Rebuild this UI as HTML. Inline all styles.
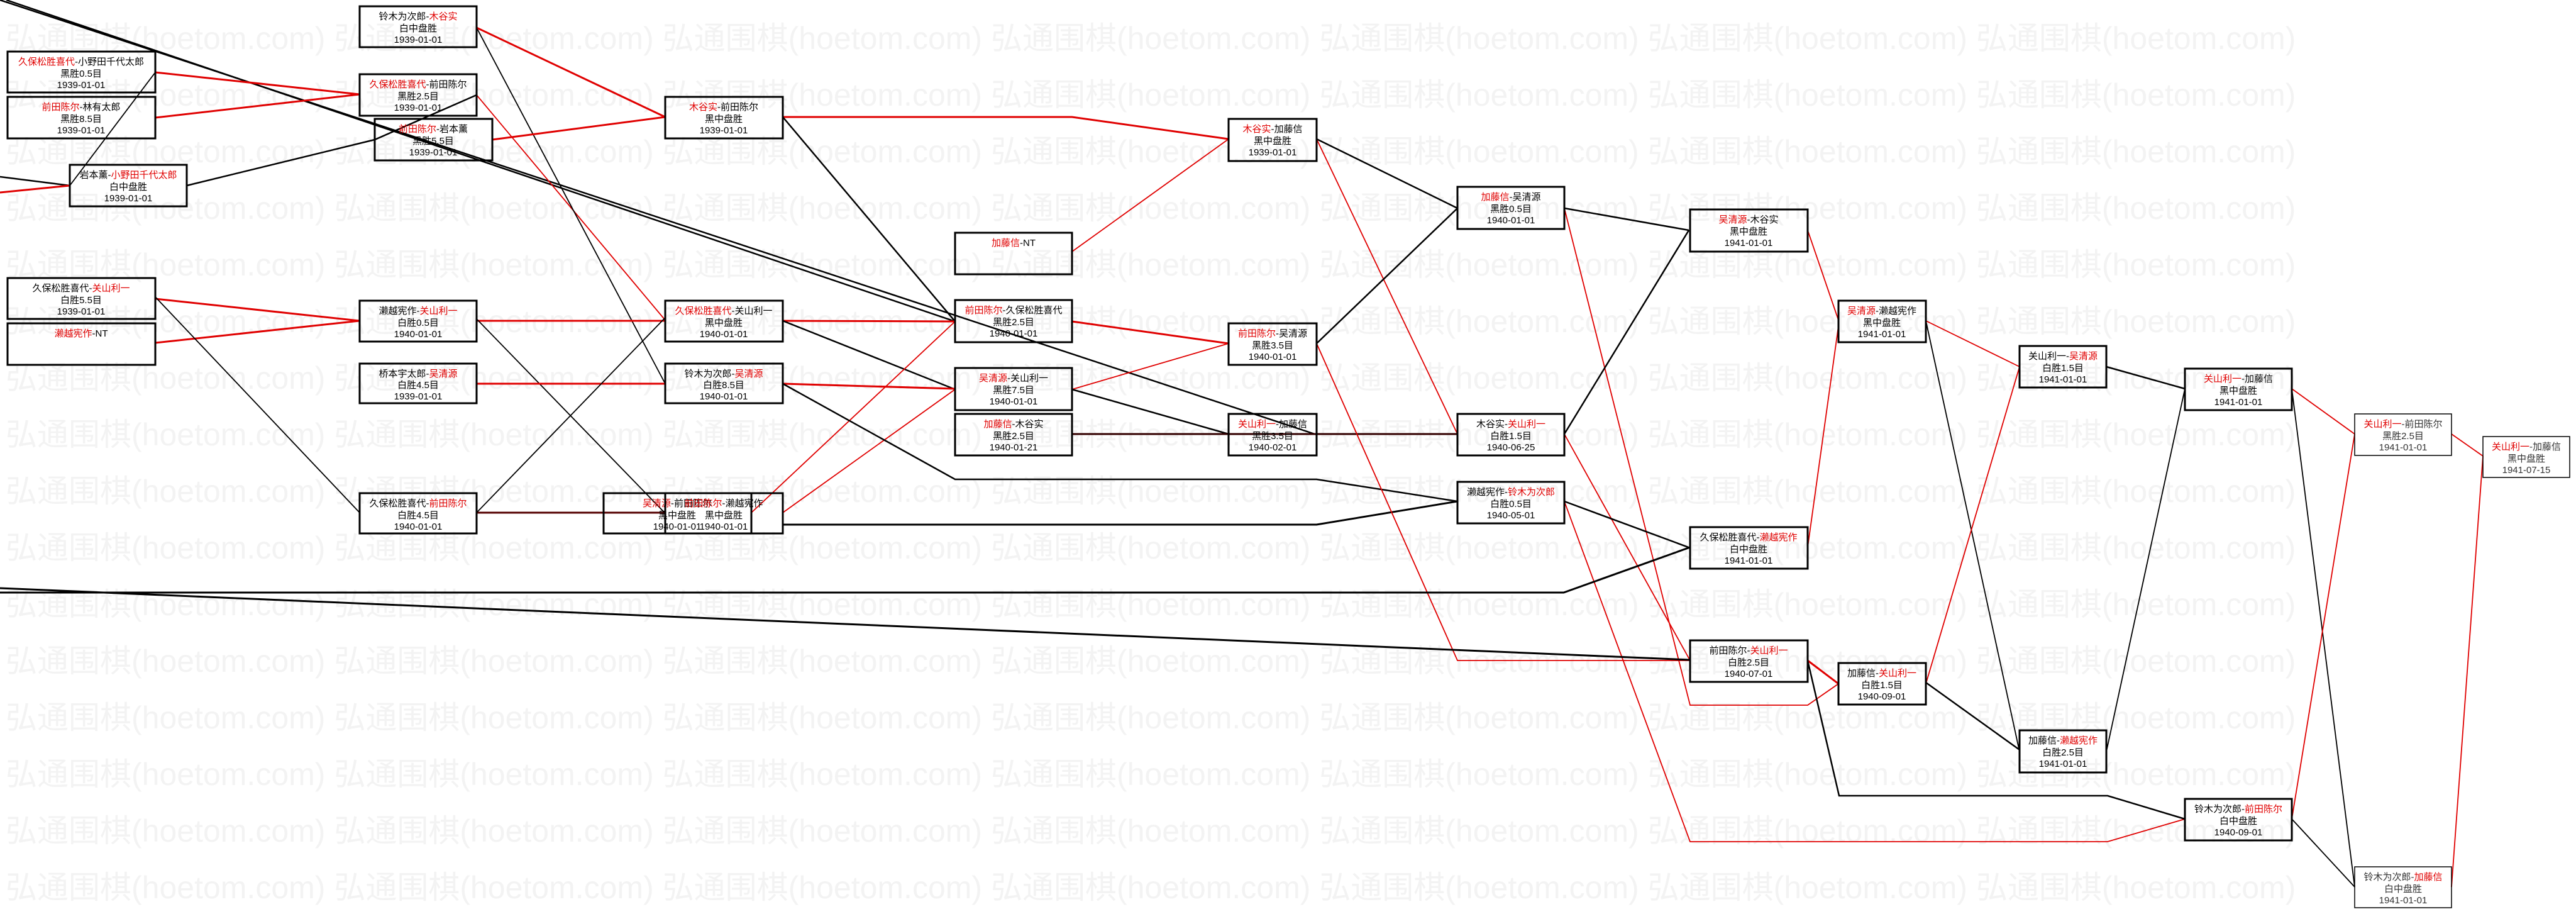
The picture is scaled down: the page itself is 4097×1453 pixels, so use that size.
<!DOCTYPE html>
<html><head><meta charset="utf-8"><style>
html,body{margin:0;padding:0;background:#fff;}
svg{display:block;}
.wm{font-family:"Liberation Sans","Noto Sans CJK SC",sans-serif;font-size:50px;fill:#f3f3f3;}
.t{font-family:"Liberation Sans","Noto Sans CJK SC",sans-serif;font-size:15px;fill:#000;text-anchor:middle;}
.r{fill:#e00000;}
.g{fill:#333;}
.b{fill:none;stroke:#000;stroke-width:3;}
.bt{fill:none;stroke:#000;stroke-width:1.5;}
.k{fill:none;stroke:#000;stroke-width:2.5;}
.kt{fill:none;stroke:#000;stroke-width:1.8;}
.e{fill:none;stroke:#e00000;stroke-width:3;}
.et{fill:none;stroke:#e00000;stroke-width:1.8;}
</style></head><body>
<svg width="4097" height="1453" viewBox="0 0 4097 1453" xmlns="http://www.w3.org/2000/svg">
<rect width="4097" height="1453" fill="#fff"/>
<g class="wm">
<text x="9" y="78">弘通围棋(hoetom.com) 弘通围棋(hoetom.com) 弘通围棋(hoetom.com) 弘通围棋(hoetom.com) 弘通围棋(hoetom.com) 弘通围棋(hoetom.com) 弘通围棋(hoetom.com)</text>
<text x="9" y="168">弘通围棋(hoetom.com) 弘通围棋(hoetom.com) 弘通围棋(hoetom.com) 弘通围棋(hoetom.com) 弘通围棋(hoetom.com) 弘通围棋(hoetom.com) 弘通围棋(hoetom.com)</text>
<text x="9" y="258">弘通围棋(hoetom.com) 弘通围棋(hoetom.com) 弘通围棋(hoetom.com) 弘通围棋(hoetom.com) 弘通围棋(hoetom.com) 弘通围棋(hoetom.com) 弘通围棋(hoetom.com)</text>
<text x="9" y="348">弘通围棋(hoetom.com) 弘通围棋(hoetom.com) 弘通围棋(hoetom.com) 弘通围棋(hoetom.com) 弘通围棋(hoetom.com) 弘通围棋(hoetom.com) 弘通围棋(hoetom.com)</text>
<text x="9" y="438">弘通围棋(hoetom.com) 弘通围棋(hoetom.com) 弘通围棋(hoetom.com) 弘通围棋(hoetom.com) 弘通围棋(hoetom.com) 弘通围棋(hoetom.com) 弘通围棋(hoetom.com)</text>
<text x="9" y="528">弘通围棋(hoetom.com) 弘通围棋(hoetom.com) 弘通围棋(hoetom.com) 弘通围棋(hoetom.com) 弘通围棋(hoetom.com) 弘通围棋(hoetom.com) 弘通围棋(hoetom.com)</text>
<text x="9" y="618">弘通围棋(hoetom.com) 弘通围棋(hoetom.com) 弘通围棋(hoetom.com) 弘通围棋(hoetom.com) 弘通围棋(hoetom.com) 弘通围棋(hoetom.com) 弘通围棋(hoetom.com)</text>
<text x="9" y="708">弘通围棋(hoetom.com) 弘通围棋(hoetom.com) 弘通围棋(hoetom.com) 弘通围棋(hoetom.com) 弘通围棋(hoetom.com) 弘通围棋(hoetom.com) 弘通围棋(hoetom.com)</text>
<text x="9" y="798">弘通围棋(hoetom.com) 弘通围棋(hoetom.com) 弘通围棋(hoetom.com) 弘通围棋(hoetom.com) 弘通围棋(hoetom.com) 弘通围棋(hoetom.com) 弘通围棋(hoetom.com)</text>
<text x="9" y="888">弘通围棋(hoetom.com) 弘通围棋(hoetom.com) 弘通围棋(hoetom.com) 弘通围棋(hoetom.com) 弘通围棋(hoetom.com) 弘通围棋(hoetom.com) 弘通围棋(hoetom.com)</text>
<text x="9" y="978">弘通围棋(hoetom.com) 弘通围棋(hoetom.com) 弘通围棋(hoetom.com) 弘通围棋(hoetom.com) 弘通围棋(hoetom.com) 弘通围棋(hoetom.com) 弘通围棋(hoetom.com)</text>
<text x="9" y="1068">弘通围棋(hoetom.com) 弘通围棋(hoetom.com) 弘通围棋(hoetom.com) 弘通围棋(hoetom.com) 弘通围棋(hoetom.com) 弘通围棋(hoetom.com) 弘通围棋(hoetom.com)</text>
<text x="9" y="1158">弘通围棋(hoetom.com) 弘通围棋(hoetom.com) 弘通围棋(hoetom.com) 弘通围棋(hoetom.com) 弘通围棋(hoetom.com) 弘通围棋(hoetom.com) 弘通围棋(hoetom.com)</text>
<text x="9" y="1248">弘通围棋(hoetom.com) 弘通围棋(hoetom.com) 弘通围棋(hoetom.com) 弘通围棋(hoetom.com) 弘通围棋(hoetom.com) 弘通围棋(hoetom.com) 弘通围棋(hoetom.com)</text>
<text x="9" y="1338">弘通围棋(hoetom.com) 弘通围棋(hoetom.com) 弘通围棋(hoetom.com) 弘通围棋(hoetom.com) 弘通围棋(hoetom.com) 弘通围棋(hoetom.com) 弘通围棋(hoetom.com)</text>
<text x="9" y="1428">弘通围棋(hoetom.com) 弘通围棋(hoetom.com) 弘通围棋(hoetom.com) 弘通围棋(hoetom.com) 弘通围棋(hoetom.com) 弘通围棋(hoetom.com) 弘通围棋(hoetom.com)</text>
</g>

<!-- connectors -->
<polyline class="k" points="0,0 2094,691"/>
<polyline class="k" points="10,0 1519,511"/>
<polyline class="k" points="0,281 111,295"/>
<polyline class="e" points="0,306 111,295"/>
<polyline class="e" points="247,115 572,150"/>
<polyline class="e" points="247,187 572,150"/>
<polyline class="kt" points="247,115 111,295"/>
<polyline class="k" points="297,295 596,222 758,151"/>
<polyline class="et" points="758,151 1058,509"/>
<polyline class="kt" points="758,44 1058,610"/>
<polyline class="e" points="758,44 1058,186"/>
<polyline class="e" points="783,222 1058,186"/>
<polyline class="e" points="1245,186 1705,186 1954,221"/>
<polyline class="k" points="1245,186 1519,511"/>
<polyline class="e" points="247,475 572,510"/>
<polyline class="e" points="247,545 572,510"/>
<polyline class="kt" points="247,472 572,815"/>
<polyline class="e" points="758,510 1058,510"/>
<polyline class="kt" points="758,507 1058,816"/>
<polyline class="e" points="1245,510 1519,511"/>
<polyline class="k" points="1245,510 1519,619"/>
<polyline class="e" points="758,610 1058,610"/>
<polyline class="kt" points="758,815 1058,505"/>
<polyline class="b" points="758,815 1058,815" style="stroke:#500"/>
<polyline class="b" points="1245,834 2094,834 2318,797"/>
<polyline class="et" points="1195,815 1519,511"/>
<polyline class="et" points="1245,815 1519,619"/>
<polyline class="e" points="1245,610 1519,618"/>
<polyline class="k" points="1245,610 1519,762 2094,762 2318,797"/>
<polyline class="et" points="1705,400 1954,221"/>
<polyline class="e" points="1705,511 1954,546"/>
<polyline class="et" points="1705,619 1954,546"/>
<polyline class="k" points="1705,619 1954,690"/>
<polyline class="b" points="1705,690 2318,690" style="stroke:#300"/>
<polyline class="k" points="2094,221 2318,331"/>
<polyline class="et" points="2094,221 2318,690"/>
<polyline class="k" points="2094,546 2318,331"/>
<polyline class="et" points="2094,546 2318,1050 2688,1050"/>
<polyline class="k" points="2488,331 2686,366"/>
<polyline class="et" points="2488,331 2688,1121 2875,1121 2924,1087"/>
<polyline class="k" points="2488,690 2686,366"/>
<polyline class="et" points="2488,690 2688,1050"/>
<polyline class="k" points="2488,797 2688,871"/>
<polyline class="et" points="2488,797 2688,1338 3352,1338 3475,1302"/>
<polyline class="b" points="0,935 2688,1049"/>
<polyline class="b" points="0,942 2487,942 2688,870"/>
<polyline class="et" points="2875,366 2924,509"/>
<polyline class="et" points="2875,870 2924,518"/>
<polyline class="et" points="3063,510 3212,583"/>
<polyline class="kt" points="3063,510 3212,1195"/>
<polyline class="k" points="3350,583 3475,618"/>
<polyline class="et" points="3063,1087 3212,583"/>
<polyline class="et" points="3645,618 3745,690"/>
<polyline class="kt" points="3350,1195 3475,618"/>
<polyline class="kt" points="3645,618 3745,1410"/>
<polyline class="et" points="3899,690 3949,725"/>
<polyline class="et" points="3645,1302 3745,690"/>
<polyline class="et" points="3899,1410 3949,725"/>
<polyline class="e" points="2875,1050 2924,1087"/>
<polyline class="k" points="2875,1050 2925,1265 3352,1265 3475,1302"/>
<polyline class="k" points="3063,1085 3212,1192"/>
<polyline class="kt" points="3645,1302 3745,1410"/>

<!-- nodes -->
<g>
<rect class="b" x="572" y="10" width="186" height="65"/>
<text class="t" x="665" y="31">铃木为次郎-<tspan class="r">木谷实</tspan></text><text class="t" x="665" y="50">白中盘胜</text><text class="t" x="665" y="68">1939-01-01</text>

<rect class="b" x="12" y="82" width="235" height="65"/>
<text class="t" x="129" y="103"><tspan class="r">久保松胜喜代</tspan>-小野田千代太郎</text><text class="t" x="129" y="122">黑胜0.5目</text><text class="t" x="129" y="140">1939-01-01</text>

<rect class="b" x="12" y="154" width="235" height="66"/>
<text class="t" x="129" y="175"><tspan class="r">前田陈尔</tspan>-林有太郎</text><text class="t" x="129" y="194">黑胜8.5目</text><text class="t" x="129" y="212">1939-01-01</text>

<rect class="b" x="572" y="118" width="186" height="66"/>
<text class="t" x="665" y="139"><tspan class="r">久保松胜喜代</tspan>-前田陈尔</text><text class="t" x="665" y="158">黑胜2.5目</text><text class="t" x="665" y="176">1939-01-01</text>

<rect class="b" x="596" y="189" width="187" height="66"/>
<text class="t" x="689" y="210"><tspan class="r">前田陈尔</tspan>-岩本薰</text><text class="t" x="689" y="229">黑胜5.5目</text><text class="t" x="689" y="247">1939-01-01</text>

<rect class="b" x="111" y="262" width="186" height="66"/>
<text class="t" x="204" y="283">岩本薰-<tspan class="r">小野田千代太郎</tspan></text><text class="t" x="204" y="302">白中盘胜</text><text class="t" x="204" y="320">1939-01-01</text>

<rect class="b" x="1058" y="154" width="187" height="66"/>
<text class="t" x="1151" y="175"><tspan class="r">木谷实</tspan>-前田陈尔</text><text class="t" x="1151" y="194">黑中盘胜</text><text class="t" x="1151" y="212">1939-01-01</text>

<rect class="b" x="12" y="442" width="235" height="65"/>
<text class="t" x="129" y="463">久保松胜喜代-<tspan class="r">关山利一</tspan></text><text class="t" x="129" y="482">白胜5.5目</text><text class="t" x="129" y="500">1939-01-01</text>

<rect class="b" x="12" y="514" width="235" height="66"/>
<text class="t" x="129" y="535"><tspan class="r">濑越宪作</tspan>-NT</text>

<rect class="b" x="572" y="478" width="186" height="65"/>
<text class="t" x="665" y="499">濑越宪作-<tspan class="r">关山利一</tspan></text><text class="t" x="665" y="518">白胜0.5目</text><text class="t" x="665" y="536">1940-01-01</text>

<rect class="b" x="1058" y="478" width="187" height="65"/>
<text class="t" x="1151" y="499"><tspan class="r">久保松胜喜代</tspan>-关山利一</text><text class="t" x="1151" y="518">黑中盘胜</text><text class="t" x="1151" y="536">1940-01-01</text>

<rect class="b" x="572" y="578" width="186" height="63"/>
<text class="t" x="665" y="599">桥本宇太郎-<tspan class="r">吴清源</tspan></text><text class="t" x="665" y="617">白胜4.5目</text><text class="t" x="665" y="635">1939-01-01</text>

<rect class="b" x="1058" y="578" width="187" height="63"/>
<text class="t" x="1151" y="599">铃木为次郎-<tspan class="r">吴清源</tspan></text><text class="t" x="1151" y="617">白胜8.5目</text><text class="t" x="1151" y="635">1940-01-01</text>

<rect class="b" x="572" y="784" width="186" height="64"/>
<text class="t" x="665" y="805">久保松胜喜代-<tspan class="r">前田陈尔</tspan></text><text class="t" x="665" y="824">白胜4.5目</text><text class="t" x="665" y="842">1940-01-01</text>

<rect class="b" x="960" y="784" width="235" height="64"/>
<text class="t" x="1077" y="805"><tspan class="r">吴清源</tspan>-前田陈尔</text><text class="t" x="1077" y="824">黑中盘胜</text><text class="t" x="1077" y="842">1940-01-01</text>
<rect class="b" x="1058" y="784" width="187" height="64"/>
<text class="t" x="1151" y="805"><tspan class="r">前田陈尔</tspan>-濑越宪作</text><text class="t" x="1151" y="824">黑中盘胜</text><text class="t" x="1151" y="842">1940-01-01</text>

<rect class="b" x="1954" y="189" width="140" height="67"/>
<text class="t" x="2024" y="210"><tspan class="r">木谷实</tspan>-加藤信</text><text class="t" x="2024" y="229">黑中盘胜</text><text class="t" x="2024" y="247">1939-01-01</text>

<rect class="b" x="1519" y="370" width="186" height="66"/>
<text class="t" x="1612" y="391"><tspan class="r">加藤信</tspan>-NT</text>

<rect class="b" x="1519" y="477" width="186" height="67"/>
<text class="t" x="1612" y="498"><tspan class="r">前田陈尔</tspan>-久保松胜喜代</text><text class="t" x="1612" y="517">黑胜2.5目</text><text class="t" x="1612" y="535">1940-01-01</text>

<rect class="b" x="1519" y="585" width="186" height="67"/>
<text class="t" x="1612" y="606"><tspan class="r">吴清源</tspan>-关山利一</text><text class="t" x="1612" y="625">黑胜7.5目</text><text class="t" x="1612" y="643">1940-01-01</text>

<rect class="b" x="1519" y="658" width="186" height="66"/>
<text class="t" x="1612" y="679"><tspan class="r">加藤信</tspan>-木谷实</text><text class="t" x="1612" y="698">黑胜2.5目</text><text class="t" x="1612" y="716">1940-01-21</text>

<rect class="b" x="1954" y="514" width="140" height="66"/>
<text class="t" x="2024" y="535"><tspan class="r">前田陈尔</tspan>-吴清源</text><text class="t" x="2024" y="554">黑胜3.5目</text><text class="t" x="2024" y="572">1940-01-01</text>

<rect class="b" x="1954" y="658" width="140" height="66"/>
<text class="t" x="2024" y="679"><tspan class="r">关山利一</tspan>-加藤信</text><text class="t" x="2024" y="698">黑胜3.5目</text><text class="t" x="2024" y="716">1940-02-01</text>

<rect class="b" x="2318" y="297" width="170" height="67"/>
<text class="t" x="2403" y="318"><tspan class="r">加藤信</tspan>-吴清源</text><text class="t" x="2403" y="337">黑胜0.5目</text><text class="t" x="2403" y="355">1940-01-01</text>

<rect class="b" x="2318" y="658" width="170" height="66"/>
<text class="t" x="2403" y="679">木谷实-<tspan class="r">关山利一</tspan></text><text class="t" x="2403" y="698">白胜1.5目</text><text class="t" x="2403" y="716">1940-06-25</text>

<rect class="b" x="2318" y="766" width="170" height="66"/>
<text class="t" x="2403" y="787">濑越宪作-<tspan class="r">铃木为次郎</tspan></text><text class="t" x="2403" y="806">白胜0.5目</text><text class="t" x="2403" y="824">1940-05-01</text>

<rect class="b" x="2688" y="333" width="187" height="67"/>
<text class="t" x="2781" y="354"><tspan class="r">吴清源</tspan>-木谷实</text><text class="t" x="2781" y="373">黑中盘胜</text><text class="t" x="2781" y="391">1941-01-01</text>

<rect class="b" x="2924" y="478" width="139" height="66"/>
<text class="t" x="2993" y="499"><tspan class="r">吴清源</tspan>-濑越宪作</text><text class="t" x="2993" y="518">黑中盘胜</text><text class="t" x="2993" y="536">1941-01-01</text>

<rect class="b" x="3212" y="550" width="138" height="66"/>
<text class="t" x="3281" y="571">关山利一-<tspan class="r">吴清源</tspan></text><text class="t" x="3281" y="590">白胜1.5目</text><text class="t" x="3281" y="608">1941-01-01</text>

<rect class="b" x="3475" y="586" width="170" height="66"/>
<text class="t" x="3560" y="607"><tspan class="r">关山利一</tspan>-加藤信</text><text class="t" x="3560" y="626">黑中盘胜</text><text class="t" x="3560" y="644">1941-01-01</text>

<rect class="bt" x="3745" y="658" width="154" height="66"/>
<text class="t g" x="3822" y="679"><tspan class="r">关山利一</tspan>-前田陈尔</text><text class="t g" x="3822" y="698">黑胜2.5目</text><text class="t g" x="3822" y="716">1941-01-01</text>

<rect class="bt" x="3949" y="694" width="138" height="65"/>
<text class="t g" x="4018" y="715"><tspan class="r">关山利一</tspan>-加藤信</text><text class="t g" x="4018" y="734">黑中盘胜</text><text class="t g" x="4018" y="752">1941-07-15</text>

<rect class="b" x="2688" y="838" width="187" height="66"/>
<text class="t" x="2781" y="859">久保松胜喜代-<tspan class="r">濑越宪作</tspan></text><text class="t" x="2781" y="878">白中盘胜</text><text class="t" x="2781" y="896">1941-01-01</text>

<rect class="b" x="2688" y="1018" width="187" height="66"/>
<text class="t" x="2781" y="1039">前田陈尔-<tspan class="r">关山利一</tspan></text><text class="t" x="2781" y="1058">白胜2.5目</text><text class="t" x="2781" y="1076">1940-07-01</text>

<rect class="b" x="2924" y="1054" width="139" height="66"/>
<text class="t" x="2993" y="1075">加藤信-<tspan class="r">关山利一</tspan></text><text class="t" x="2993" y="1094">白胜1.5目</text><text class="t" x="2993" y="1112">1940-09-01</text>

<rect class="b" x="3212" y="1161" width="138" height="67"/>
<text class="t" x="3281" y="1182">加藤信-<tspan class="r">濑越宪作</tspan></text><text class="t" x="3281" y="1201">白胜2.5目</text><text class="t" x="3281" y="1219">1941-01-01</text>

<rect class="b" x="3475" y="1270" width="170" height="66"/>
<text class="t" x="3560" y="1291">铃木为次郎-<tspan class="r">前田陈尔</tspan></text><text class="t" x="3560" y="1310">白中盘胜</text><text class="t" x="3560" y="1328">1940-09-01</text>

<rect class="bt" x="3745" y="1378" width="154" height="65"/>
<text class="t g" x="3822" y="1399">铃木为次郎-<tspan class="r">加藤信</tspan></text><text class="t g" x="3822" y="1418">白中盘胜</text><text class="t g" x="3822" y="1436">1941-01-01</text>
</g>
</svg>
</body></html>
